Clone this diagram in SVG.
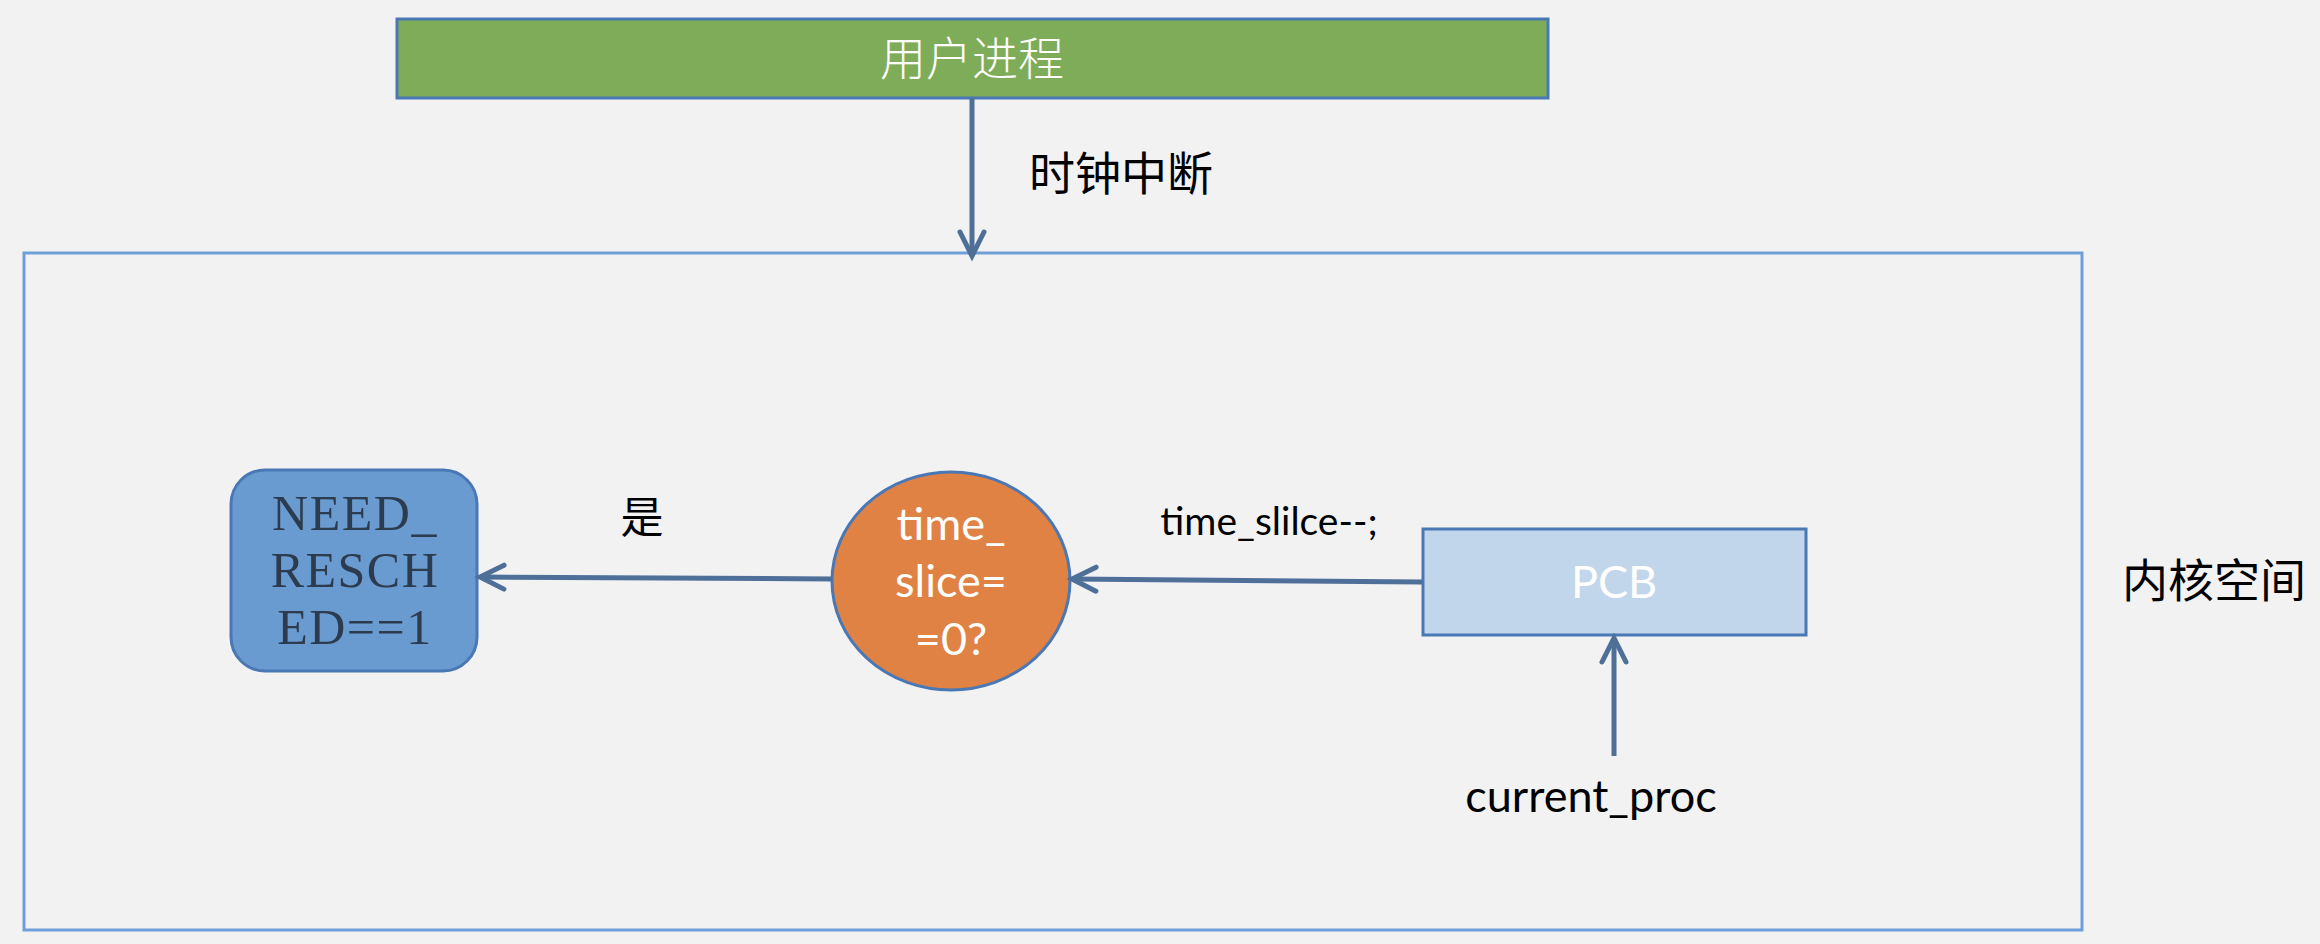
<svg xmlns="http://www.w3.org/2000/svg" width="2320" height="944" viewBox="0 0 2320 944">
<style>
.cjk{font-family:"Noto Sans CJK SC",sans-serif;}
.sans{font-family:Lato,"Liberation Sans",sans-serif;}
.serif{font-family:"Liberation Serif",serif;}
.conn{stroke:#4e6f98;stroke-width:5;fill:none;}
</style>
<defs>
<marker id="arr" markerUnits="userSpaceOnUse" markerWidth="40" markerHeight="40" viewBox="-30 -20 40 40" refX="0" refY="0" orient="auto">
<path d="M -24 -12 L 0 0 L -24 12" fill="none" stroke="#4e6f98" stroke-width="5" stroke-linecap="round" stroke-linejoin="miter"/>
</marker>
</defs>
<rect x="0" y="0" width="2320" height="944" fill="#f2f2f2"/>
<g id="kernel">
<rect x="24" y="253" width="2058" height="677" fill="none" stroke="#6f9fd8" stroke-width="3"/>
<text x="2214" y="597" class="cjk" font-size="46" text-anchor="middle" fill="#000">内核空间</text>
</g>
<g id="user">
<rect x="397" y="19" width="1151" height="79" fill="#7fac58" stroke="#4a78b5" stroke-width="3"/>
<text x="972" y="75" class="cjk" font-size="46" font-weight="300" text-anchor="middle" fill="#fff">用户进程</text>
</g>
<g id="need">
<rect x="231" y="470" width="246" height="201" rx="34" ry="34" fill="#6a9bd0" stroke="#4a78b5" stroke-width="3"/>
<text class="serif" font-size="50" letter-spacing="1.5" text-anchor="middle" fill="#2d3b4f"><tspan x="355" y="530">NEED_</tspan><tspan x="355" y="587">RESCH</tspan><tspan x="355" y="644">ED==1</tspan></text>
</g>
<g id="cond">
<ellipse cx="951" cy="581" rx="119" ry="109" fill="#e08244" stroke="#4a78b5" stroke-width="3"/>
<text class="sans" font-size="45" text-anchor="middle" fill="#fff"><tspan x="951" y="540">time_</tspan><tspan x="951" y="597">slice=</tspan><tspan x="951" y="655">=0?</tspan></text>
</g>
<g id="pcb">
<rect x="1423" y="529" width="383" height="106" fill="#c2d6eb" stroke="#4a78b5" stroke-width="3"/>
<text x="1614" y="598" class="sans" font-size="45" text-anchor="middle" fill="#fff">PCB</text>
</g>
<g id="connectors">
<line x1="972" y1="98" x2="972" y2="256" class="conn" marker-end="url(#arr)"/>
<line x1="832" y1="579" x2="480" y2="577" class="conn" marker-end="url(#arr)"/>
<line x1="1422" y1="582" x2="1072" y2="579" class="conn" marker-end="url(#arr)"/>
<line x1="1614" y1="756" x2="1614" y2="638" class="conn" marker-end="url(#arr)"/>
</g>
<g id="labels">
<text x="1121" y="190" class="cjk" font-size="46" text-anchor="middle" fill="#000">时钟中断</text>
<text x="642" y="533" class="cjk" font-size="43" text-anchor="middle" fill="#000">是</text>
<text x="1269" y="535" class="sans" font-size="39" text-anchor="middle" fill="#000">time_slilce--;</text>
<text x="1591" y="812" class="sans" font-size="45" text-anchor="middle" fill="#000">current_proc</text>
</g>
</svg>
